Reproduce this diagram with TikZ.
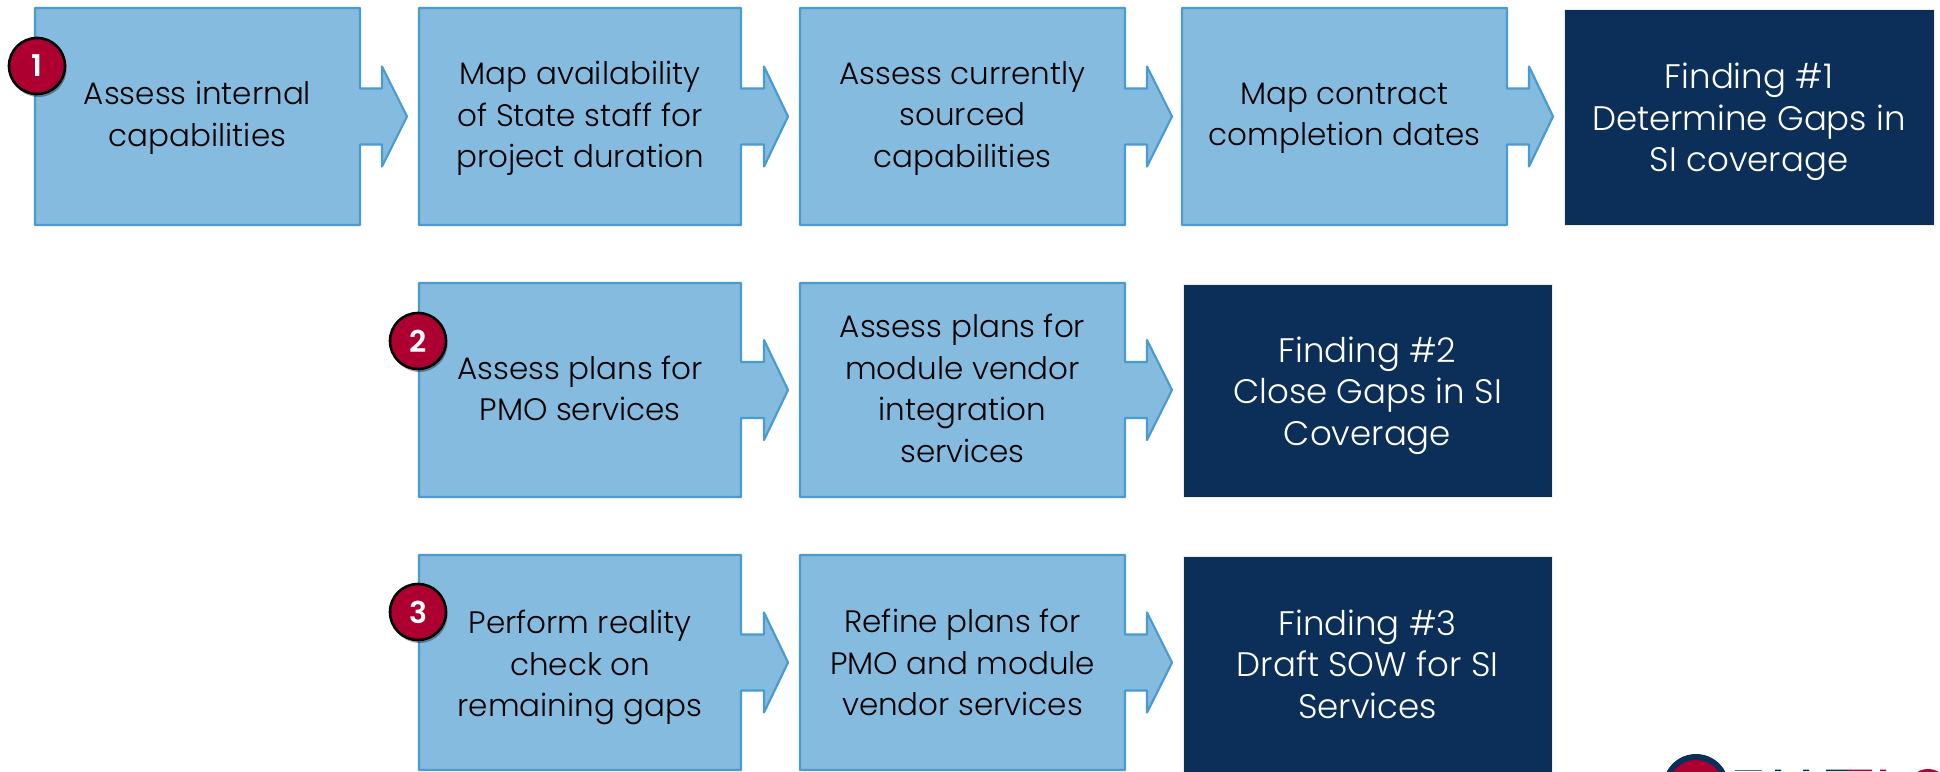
\documentclass[tikz,border=0pt]{standalone}
\usepackage{fontspec}
\setmainfont{Poppins Light}
\usetikzlibrary{shadows,calc}
\definecolor{boxfill}{HTML}{85BBDF}
\definecolor{boxline}{HTML}{4A9BD0}
\definecolor{navy}{HTML}{0B2F58}
\definecolor{crim}{HTML}{AD0030}
\tikzset{x=1pt,y=-1pt,
 txt/.style={align=center,font=\fontsize{31}{41.5}\selectfont,text=black},
 flow/.style={draw=boxline,fill=boxfill,line width=2.2pt,line join=round},
 finding/.style={fill=navy,draw=white!93!black,line width=1pt,inner sep=0pt},
 findtxt/.style={align=center,text=white,font=\fontsize{34}{41.5}\selectfont},
 badge/.style={circle,fill=crim,draw=black,line width=2.6pt,minimum size=56pt,inner sep=0pt,text=white,font=\fontsize{30}{30}\selectfont\bfseries,drop shadow={shadow xshift=1.5pt,shadow yshift=-3pt,fill=black,opacity=.35}}}
% #1 name, #2 left, #3 top, #4 height, #5 right, #6 head base, #7 tip
\newcommand{\arrowbox}[7]{%
 \pgfmathsetmacro{\cy}{#3+#4*0.5}
 \pgfmathsetmacro{\bot}{#3+#4}
 \draw[flow] (#2,#3) -- (#5,#3) -- (#5,\cy-28) -- (#6,\cy-28) -- (#6,\cy-50) -- (#7,\cy) -- (#6,\cy+50) -- (#6,\cy+28) -- (#5,\cy+28) -- (#5,\bot) -- (#2,\bot) -- cycle;
 \coordinate (#1) at ({(#2+#5)/2},\cy);
}
\begin{document}
\begin{tikzpicture}
\useasboundingbox (0,0) rectangle (1940,771);
\fill[white] (0,0) rectangle (1940,771);
% Row 1
\arrowbox{c1}{35}{8}{217}{360}{382}{407}
\arrowbox{c2}{419}{8}{217}{741}{764}{788}
\arrowbox{c3}{800}{8}{217}{1125}{1147}{1172}
\arrowbox{c4}{1182}{8}{217}{1507}{1529}{1553}
\node[txt,yshift=-1.5pt] (t1) at (c1) {Assess internal\\capabilities};
\node[txt,yshift=-2pt] (t2) at (c2) {Map availability\\of State staff for\\project duration};
\node[txt,yshift=-2pt] (t3) at (c3) {Assess currently\\sourced\\capabilities};
\node[txt,yshift=-2pt] (t4) at (c4) {Map contract\\completion dates};
\node[finding,minimum width=370pt,minimum height=216pt] (f1) at (1749,117) {};
\node[findtxt,yshift=-5pt] (ft1) at (f1) {Finding \#1\\Determine Gaps in\\SI coverage};
% Row 2
\arrowbox{c5}{419}{283}{214}{741}{764}{788}
\arrowbox{c6}{800}{283}{214}{1125}{1147}{1172}
\node[txt,yshift=1.5pt] (t5) at (c5) {Assess plans for\\PMO services};
\node[txt,yshift=1.5pt] (t6) at (c6) {Assess plans for\\module vendor\\integration\\services};
\node[finding,minimum width=369pt,minimum height=213pt] (f2) at (1367.5,390.5) {};
\node[findtxt,yshift=-5pt] (ft2) at (f2) {Finding \#2\\Close Gaps in SI\\Coverage};
% Row 3
\arrowbox{c7}{419}{555}{215}{741}{764}{788}
\arrowbox{c8}{800}{555}{215}{1125}{1147}{1172}
\node[txt,yshift=-5pt] (t7) at (c7) {Perform reality\\check on\\remaining gaps};
\node[txt,yshift=0pt] (t8) at (c8) {Refine plans for\\PMO and module\\vendor services};
\node[finding,minimum width=369pt,minimum height=216pt] (f3) at (1367.5,664) {};
\node[findtxt,yshift=0pt] (ft3) at (f3) {Finding \#3\\Draft SOW for SI\\Services};
% Badges
\node[badge] (b1) at (37,66) {1};
\node[badge] (b2) at (418,341) {2};
\node[badge] (b3) at (418,612) {3};
% Logo sliver
\begin{scope}
\clip (1600,740) rectangle (1940,771);
\fill[navy] (1696,787) circle (33);
\fill[crim] (1696,787) circle (27);
\fill[navy!70!white] (1735,769.5) rectangle (1762,771);
\fill[navy] (1775,769.5) rectangle (1781,771) (1803,769.5) rectangle (1809,771) (1826,769.5) rectangle (1848,771);
\fill[crim] (1848,769.5) rectangle (1872,771) (1880,769.5) rectangle (1886,771);
\fill[crim] (1928,790) circle (21);
\end{scope}
\end{tikzpicture}
\end{document}
